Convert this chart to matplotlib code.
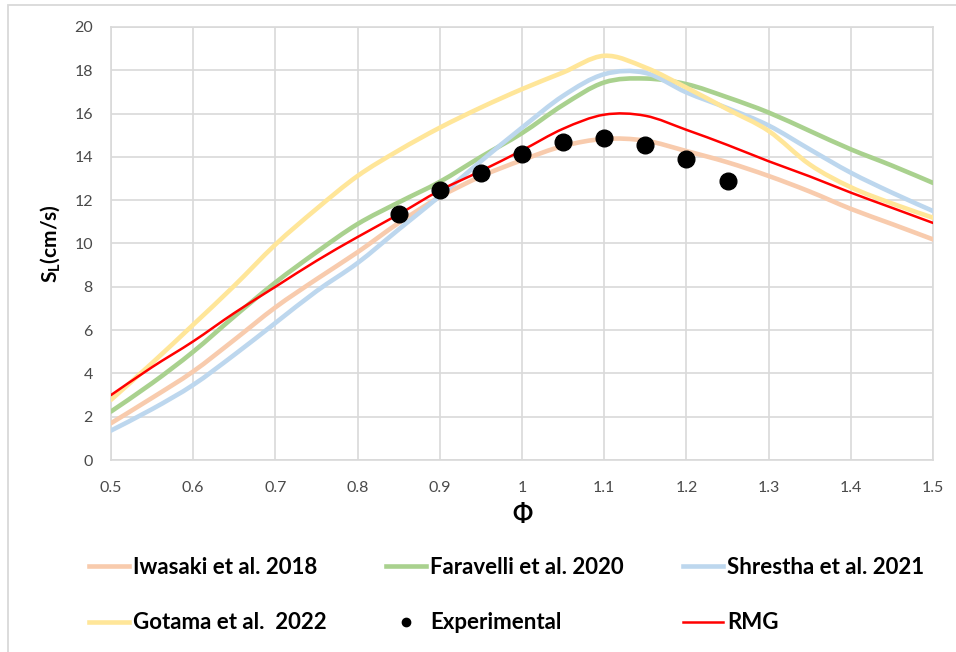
import numpy as np
import matplotlib.pyplot as plt
from matplotlib.path import Path
from matplotlib.patches import PathPatch, Rectangle
from matplotlib.lines import Line2D

plt.rcParams['font.family'] = ['Lato', 'DejaVu Sans']
plt.rcParams['mathtext.fontset'] = 'custom'
plt.rcParams['mathtext.rm'] = 'Lato:bold'
plt.rcParams['mathtext.default'] = 'rm'

# equivalence ratio grid of the model curves
phi = [0.50, 0.55, 0.60, 0.65, 0.70, 0.75, 0.80, 0.85, 0.90, 0.95, 1.00,
       1.05, 1.10, 1.15, 1.20, 1.25, 1.30, 1.35, 1.40, 1.45, 1.50]

# laminar flame speed S_L (cm/s) per mechanism
iwasaki = [1.70, 2.87, 4.09, 5.55, 7.05, 8.35, 9.60, 10.95, 12.15, 13.10, 13.85,
           14.50, 14.83, 14.75, 14.27, 13.75, 13.12, 12.40, 11.60, 10.90, 10.19]
faravelli = [2.24, 3.55, 5.00, 6.63, 8.20, 9.60, 10.90, 11.90, 12.85, 14.00, 15.10,
             16.40, 17.44, 17.62, 17.36, 16.75, 16.05, 15.20, 14.35, 13.60, 12.80]
shrestha = [1.36, 2.35, 3.47, 4.86, 6.33, 7.80, 9.10, 10.65, 12.19, 13.80, 15.35,
            16.82, 17.82, 17.88, 16.98, 16.25, 15.45, 14.35, 13.27, 12.35, 11.50]
gotama = [2.78, 4.48, 6.25, 8.05, 9.95, 11.60, 13.12, 14.30, 15.35, 16.28, 17.13,
          17.90, 18.67, 18.13, 17.20, 16.20, 15.20, 13.65, 12.60, 11.85, 11.19]
rmg = [3.00, 4.29, 5.48, 6.79, 8.00, 9.20, 10.30, 11.35, 12.45, 13.35, 14.30,
       15.30, 15.95, 15.90, 15.25, 14.55, 13.80, 13.10, 12.35, 11.65, 10.95]

# measurements
phi_exp = [0.85, 0.90, 0.95, 1.00, 1.05, 1.10, 1.15, 1.20, 1.25]
sl_exp = [11.34, 12.47, 13.27, 14.12, 14.69, 14.85, 14.55, 13.92, 12.89]

x_ticks = [0.5, 0.6, 0.7, 0.8, 0.9, 1.0, 1.1, 1.2, 1.3, 1.4, 1.5]
x_tick_labels = ['0.5', '0.6', '0.7', '0.8', '0.9', '1', '1.1', '1.2', '1.3', '1.4', '1.5']
y_ticks = [0, 2, 4, 6, 8, 10, 12, 14, 16, 18, 20]

GRID = '#D9D9D9'


def smooth_path(x, y):
    # bezier through every point, same idea as a spreadsheet "smoothed line"
    pts = np.column_stack([x, y])
    n = len(pts)
    verts = [pts[0]]
    codes = [Path.MOVETO]
    for i in range(n - 1):
        p0 = pts[i - 1] if i > 0 else pts[i]
        p1 = pts[i]
        p2 = pts[i + 1]
        p3 = pts[i + 2] if i + 2 < n else pts[i + 1]
        verts += [p1 + (p2 - p0) / 6, p2 - (p3 - p1) / 6, p2]
        codes += [Path.CURVE4] * 3
    return Path(verts, codes)


fig = plt.figure(figsize=(9.56, 6.52), dpi=100)
ax = fig.add_axes([111 / 956, 1 - 460 / 652, 822 / 956, 433 / 652])

# light frame around the whole chart
fig.patches.append(Rectangle((8 / 956, -0.1), 1.2, 1 - 5 / 652 + 0.1, transform=fig.transFigure,
                             facecolor='none', edgecolor=GRID, lw=1.3, zorder=0))

series = [
    ('Iwasaki et al. 2018', iwasaki, '#F8CBAD', 3.3),
    ('Faravelli et al. 2020', faravelli, '#A9D18E', 3.3),
    ('Shrestha et al. 2021', shrestha, '#BDD7EE', 3.3),
    ('Gotama et al.  2022', gotama, '#FFE699', 3.3),
    ('RMG', rmg, '#FF0000', 1.8),
]

handles = {}
for i, (name, vals, color, lw) in enumerate(series):
    ax.add_patch(PathPatch(smooth_path(phi, vals), facecolor='none', edgecolor=color,
                           lw=lw, capstyle='round', joinstyle='round', zorder=3 + i))
    handles[name] = Line2D([], [], color=color, lw=lw)

ax.plot(phi_exp, sl_exp, 'o', color='black', markersize=12, zorder=10)
handles['Experimental'] = Line2D([], [], marker='o', ls='none', color='black', markersize=6)

ax.set_xlim(0.5, 1.5)
ax.set_ylim(0, 20)
ax.set_xticks(x_ticks)
ax.set_xticklabels(x_tick_labels)
ax.set_yticks(y_ticks)
ax.tick_params(length=0, labelsize=11.5, labelcolor='#4A4A4A')
ax.tick_params(axis='x', pad=15)
ax.tick_params(axis='y', pad=13)
ax.grid(True, color=GRID, lw=1.2)
ax.set_axisbelow(True)
for s in ax.spines.values():
    s.set_color(GRID)
    s.set_linewidth(1.2)

ax.set_xlabel('Φ', fontsize=17, fontweight='bold', labelpad=6)
ax.set_ylabel('$S_L(cm/s)$', fontsize=15, labelpad=9)

# column-major order so the rows read left to right
order = ['Iwasaki et al. 2018', 'Gotama et al.  2022',
         'Faravelli et al. 2020', 'Experimental',
         'Shrestha et al. 2021', 'RMG']
leg = fig.legend([handles[k] for k in order], order, ncol=3, loc='upper left',
                 bbox_to_anchor=(89 / 956, 1 - 557 / 652), frameon=False,
                 prop={'weight': 'bold', 'size': 16},
                 handlelength=1.8, handletextpad=0.2, columnspacing=2.65,
                 labelspacing=1.55, borderpad=0, borderaxespad=0)

fig.savefig('out.png', dpi=100)
